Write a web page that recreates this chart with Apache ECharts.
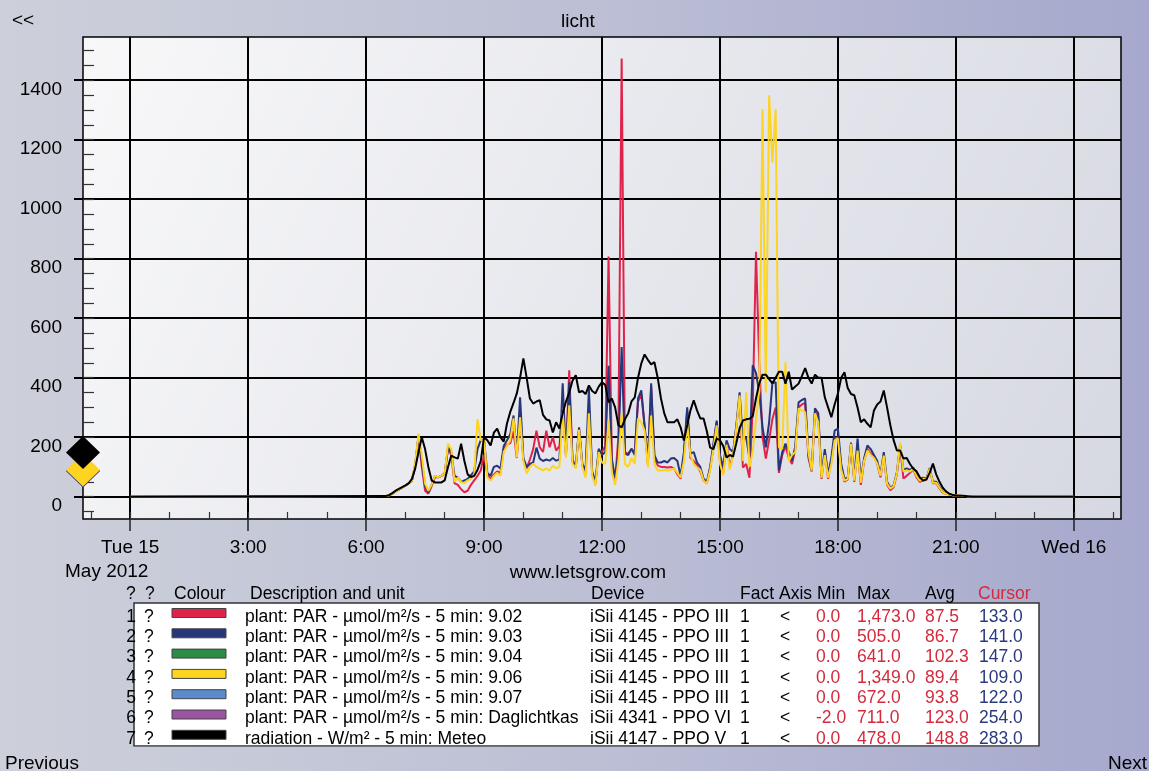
<!DOCTYPE html>
<html>
<head>
<meta charset="utf-8">
<title>licht</title>
<script src="https://cdn.jsdelivr.net/npm/echarts@6/dist/echarts.min.js"></script>
<style>
html, body { margin: 0; padding: 0; }
body {
	width: 1149px;
	height: 771px;
	overflow: hidden;
	background: linear-gradient(to right, #cdd0da 0%, #bdc0d5 50%, #a6a8cd 100%);
}
#chart { width: 1149px; height: 771px; }
</style>
</head>
<body>
<div id="chart"></div>
<script>
// x axis is in minutes since Tue 15 May 2012 00:00
const xMin = -72;
const xMax = 1512;
const yMin = -75;
const yMax = 1545;

const majorTimes = [0, 180, 360, 540, 720, 900, 1080, 1260, 1440];
const timeLabels = ['Tue 15', '3:00', '6:00', '9:00', '12:00', '15:00', '18:00', '21:00', 'Wed 16'];
const yTicks = [0, 200, 400, 600, 800, 1000, 1200, 1400];

// 5 min samples from 6:30 to 21:30, night values are 0
const nightStart = 0;
const nightEnd = 1440;
const sampleTimes = [];
for (let m = 390; m <= 1290; m += 5) sampleTimes.push(m);

// plant: PAR 9.02 (red)
const par902 = [
	2, 4, 10, 18, 24, 30,
	37, 45, 54, 105, 200, 100, 20, 10, 35, 65, 65, 70,
	78, 160, 140, 45, 40, 25, 15, 20, 40, 55, 70, 88,
	140, 75, 60, 75, 85, 80, 160, 175, 180, 220, 130, 280,
	125, 95, 125, 160, 222, 166, 150, 222, 166, 200, 155, 170,
	290, 140, 425, 125, 100, 225, 105, 80, 300, 75, 45, 155,
	150, 170, 807, 130, 55, 200, 1473, 150, 145, 160, 150, 320,
	345, 235, 110, 370, 130, 105, 100, 100, 98, 100, 95, 75,
	61, 140, 290, 130, 120, 105, 85, 54, 44, 95, 165, 250,
	120, 80, 180, 100, 140, 235, 340, 98, 110, 64, 300, 823,
	450, 200, 128, 190, 260, 300, 80, 140, 170, 130, 110, 160,
	300, 310, 315, 130, 85, 285, 270, 60, 150, 60, 120, 195,
	200, 100, 50, 58, 175, 50, 160, 40, 120, 160, 145, 135,
	110, 65, 140, 40, 22, 32, 75, 170, 61, 70, 80, 92,
	65, 50, 55, 56, 92, 45, 45, 28, 14, 10, 7, 5,
	4, 3, 2, 2, 1, 1, 0
];

// plant: PAR 9.03 (navy)
const par903 = [
	2, 4, 10, 18, 24, 30,
	37, 45, 54, 110, 205, 120, 35, 15, 40, 70, 65, 71,
	78, 165, 150, 70, 64, 50, 55, 60, 72, 85, 160, 190,
	190, 80, 70, 100, 104, 95, 170, 190, 210, 273, 140, 334,
	130, 100, 110, 115, 165, 128, 120, 125, 121, 130, 121, 125,
	381, 140, 385, 120, 100, 233, 110, 90, 364, 85, 50, 161,
	140, 150, 440, 120, 64, 150, 503, 145, 140, 161, 140, 330,
	357, 240, 115, 381, 140, 115, 115, 120, 115, 128, 130, 120,
	70, 150, 300, 145, 150, 115, 100, 60, 50, 100, 178, 256,
	140, 100, 189, 160, 150, 240, 351, 190, 200, 130, 442, 415,
	351, 233, 166, 250, 381, 385, 88, 150, 178, 150, 121, 170,
	317, 325, 330, 140, 88, 297, 280, 70, 160, 75, 130, 222,
	229, 110, 60, 64, 182, 60, 195, 55, 130, 172, 160, 140,
	120, 75, 150, 50, 30, 38, 82, 175, 90, 95, 90, 98,
	75, 58, 64, 60, 96, 50, 50, 32, 16, 11, 8, 5,
	4, 3, 2, 2, 1, 1, 0
];

// plant: PAR 9.06 (yellow)
const par906 = [
	2, 4, 10, 18, 24, 30,
	37, 45, 54, 115, 212, 140, 44, 20, 40, 71, 65, 71,
	78, 178, 160, 50, 64, 50, 45, 55, 60, 75, 260, 190,
	190, 65, 54, 70, 81, 70, 150, 170, 190, 263, 132, 267,
	120, 78, 100, 111, 100, 94, 88, 95, 88, 105, 95, 100,
	284, 132, 307, 111, 95, 225, 100, 64, 280, 71, 37, 150,
	115, 110, 256, 80, 40, 120, 280, 110, 100, 130, 110, 263,
	250, 222, 98, 273, 110, 88, 88, 90, 88, 90, 95, 80,
	64, 120, 246, 140, 110, 98, 90, 54, 44, 90, 160, 240,
	111, 71, 175, 90, 140, 230, 341, 120, 351, 100, 150, 260,
	357, 1302, 350, 1349, 1123, 1302, 166, 160, 452, 120, 140, 150,
	297, 290, 284, 150, 88, 280, 250, 64, 140, 64, 110, 189,
	195, 90, 54, 60, 178, 54, 155, 47, 121, 155, 140, 130,
	111, 70, 138, 44, 27, 35, 78, 182, 85, 88, 85, 94,
	70, 54, 60, 58, 94, 47, 47, 30, 15, 10, 7, 5,
	4, 3, 2, 2, 1, 1, 0
];

// radiation Meteo (black)
const radiation = [
	2, 5, 12, 20, 26, 32,
	38, 45, 60, 95, 150, 200, 160, 100, 55, 48, 48, 48,
	55, 100, 138, 132, 128, 178, 120, 75, 66, 70, 90, 120,
	200, 190, 172, 215, 229, 200, 185, 246, 285, 315, 347, 400,
	465, 400, 330, 313, 320, 324, 275, 260, 256, 216, 250, 229,
	280, 320, 350, 390, 408, 351, 355, 345, 374, 355, 347, 370,
	385, 375, 317, 330, 300, 240, 233, 260, 280, 320, 334, 400,
	448, 478, 460, 445, 452, 400, 330, 280, 250, 250, 250, 260,
	233, 189, 240, 290, 324, 290, 263, 263, 220, 165, 160, 195,
	190, 170, 132, 140, 135, 180, 230, 256, 260, 262, 270, 330,
	381, 410, 410, 395, 381, 400, 420, 420, 380, 420, 360, 370,
	380, 405, 432, 400, 380, 410, 400, 400, 334, 300, 267, 310,
	347, 400, 418, 365, 345, 341, 300, 250, 260, 245, 233, 290,
	310, 320, 357, 300, 240, 190, 155, 155, 128, 130, 110, 94,
	85, 65, 54, 58, 80, 111, 75, 50, 30, 18, 10, 6,
	4, 3, 3, 2, 1, 0, 0
];

// legend table
const descriptions = [
	'plant: PAR - µmol/m²/s - 5 min: 9.02',
	'plant: PAR - µmol/m²/s - 5 min: 9.03',
	'plant: PAR - µmol/m²/s - 5 min: 9.04',
	'plant: PAR - µmol/m²/s - 5 min: 9.06',
	'plant: PAR - µmol/m²/s - 5 min: 9.07',
	'plant: PAR - µmol/m²/s - 5 min: Daglichtkas',
	'radiation - W/m² - 5 min: Meteo'
];
const devices = [
	'iSii 4145 - PPO III', 'iSii 4145 - PPO III', 'iSii 4145 - PPO III',
	'iSii 4145 - PPO III', 'iSii 4145 - PPO III', 'iSii 4341 - PPO VI', 'iSii 4147 - PPO V'
];
const colours = ['#e0234b', '#26367a', '#2a8c46', '#fdd420', '#5b8bcc', '#9b55a0', '#000000'];
const minVals = [0, 0, 0, 0, 0, -2, 0];
const maxVals = [1473, 505, 641, 1349, 672, 711, 478];
const avgVals = [87.5, 86.7, 102.3, 89.4, 93.8, 123.0, 148.8];
const cursorVals = [133, 141, 147, 109, 122, 254, 283];

// which rows are drawn in the plot
const shown = [
	{ row: 0, values: par902 },
	{ row: 1, values: par903 },
	{ row: 3, values: par906 },
	{ row: 6, values: radiation }
];

const FONT = 'Liberation Sans';
const RED = '#d42a3c';
const BLUE = '#2b3a7d';
const pageStops = [
	{ offset: 0, color: '#cdd0da' },
	{ offset: 0.5, color: '#bdc0d5' },
	{ offset: 1, color: '#a6a8cd' }
];

function toPoints(vals) {
	const pts = [[nightStart, 0]];
	sampleTimes.forEach((t, i) => pts.push([t, vals[i]]));
	pts.push([nightEnd, 0]);
	return pts;
}

function fmt1(v) {
	return v.toLocaleString('en-US', { minimumFractionDigits: 1, maximumFractionDigits: 1 });
}

const hourTicks = [];
for (let m = -60; m <= 1500; m += 60) hourTicks.push(m);
const yMinorTicks = [];
for (let v = -50; v <= 1500; v += 50) yMinorTicks.push(v);

const series = [];
shown.forEach((s) => {
	series.push({
		type: 'line',
		name: descriptions[s.row],
		data: toPoints(s.values),
		showSymbol: false,
		lineStyle: { color: colours[s.row], width: 2 },
		itemStyle: { color: colours[s.row] },
		z: 3,
		animation: false
	});
});
// average markers at the left edge
shown.forEach((s) => {
	series.push({
		type: 'scatter',
		data: [[xMin, avgVals[s.row]]],
		symbol: 'diamond',
		symbolSize: [34, 33],
		clip: false,
		itemStyle: { color: colours[s.row], opacity: 1, borderWidth: 0 },
		z: 4,
		animation: false
	});
});

function txt(x, y, text, opt) {
	opt = opt || {};
	return {
		type: 'text',
		x: x,
		y: y,
		z: 10,
		style: {
			text: text,
			fill: opt.fill || '#000',
			fontSize: opt.size || 17.5,
			fontFamily: FONT,
			align: opt.align || 'left',
			textAlign: opt.align || 'left',
			verticalAlign: 'middle',
			textVerticalAlign: 'middle'
		}
	};
}

const graphics = [];
graphics.push(txt(12, 21, '<<', { size: 19 }));
graphics.push(txt(578, 22, 'licht', { size: 19, align: 'center' }));
graphics.push(txt(65, 572, 'May 2012', { size: 19 }));
graphics.push(txt(588, 573, 'www.letsgrow.com', { size: 19, align: 'center' }));
graphics.push(txt(5, 764, 'Previous', { size: 19 }));
graphics.push(txt(1147, 764, 'Next', { size: 19, align: 'right' }));

// table
const tableTop = 603;
const tableBottom = 746;
const rowY0 = 617;
const rowStep = 20.3;
const headerY = 594;
graphics.push({
	type: 'rect',
	shape: { x: 134, y: tableTop, width: 905, height: tableBottom - tableTop },
	style: { fill: '#ffffff', stroke: '#333333', lineWidth: 1.5 },
	z: 5
});
// the last row is cut off by the bottom of the box
graphics.push({
	type: 'rect',
	shape: { x: 110, y: tableBottom + 0.75, width: 940, height: 8 },
	style: {
		fill: { type: 'linear', x: 0, y: 0, x2: 1149, y2: 0, global: true, colorStops: pageStops }
	},
	z: 11
});
graphics.push(txt(126, headerY, '?'));
graphics.push(txt(145, headerY, '?'));
graphics.push(txt(174, headerY, 'Colour'));
graphics.push(txt(250, headerY, 'Description and unit'));
graphics.push(txt(591, headerY, 'Device'));
graphics.push(txt(740, headerY, 'Fact'));
graphics.push(txt(779, headerY, 'Axis'));
graphics.push(txt(817, headerY, 'Min'));
graphics.push(txt(857, headerY, 'Max'));
graphics.push(txt(925, headerY, 'Avg'));
graphics.push(txt(978, headerY, 'Cursor', { fill: RED }));

descriptions.forEach((d, i) => {
	const y = rowY0 + i * rowStep;
	graphics.push(txt(136, y, String(i + 1), { align: 'right' }));
	graphics.push(txt(144, y, '?'));
	graphics.push({
		type: 'rect',
		shape: { x: 172, y: y - 8.5, width: 54, height: 9 },
		style: { fill: colours[i], stroke: '#444', lineWidth: 1 },
		z: 10
	});
	graphics.push(txt(245, y, d));
	graphics.push(txt(590, y, devices[i]));
	graphics.push(txt(740, y, '1'));
	graphics.push(txt(780, y, '<'));
	graphics.push(txt(816, y, fmt1(minVals[i]), { fill: RED }));
	graphics.push(txt(857, y, fmt1(maxVals[i]), { fill: RED }));
	graphics.push(txt(925, y, fmt1(avgVals[i]), { fill: RED }));
	graphics.push(txt(979, y, fmt1(cursorVals[i]), { fill: BLUE }));
});

const chart = echarts.init(document.getElementById('chart'));

const option = {
	animation: false,
	backgroundColor: 'transparent',
	textStyle: { fontFamily: FONT },
	grid: {
		left: 83,
		right: 28,
		top: 37,
		bottom: 252,
		show: true,
		borderColor: '#000',
		borderWidth: 1.5,
		outerBoundsMode: 'none',
		backgroundColor: {
			type: 'linear', x: 0, y: 0, x2: 1, y2: 1,
			colorStops: [
				{ offset: 0, color: '#f8f8f9' },
				{ offset: 1, color: '#d6d8e2' }
			]
		}
	},
	xAxis: [
		{
			type: 'value',
			min: xMin,
			max: xMax,
			position: 'bottom',
			axisLine: { show: false, onZero: false },
			axisTick: {
				show: true,
				customValues: majorTimes,
				length: 12,
				lineStyle: { color: '#222', width: 1.5 }
			},
			axisLabel: {
				customValues: majorTimes,
				margin: 19,
				color: '#000',
				fontSize: 19,
				fontFamily: FONT,
				formatter: (v) => timeLabels[majorTimes.indexOf(v)]
			},
			splitLine: { show: true, lineStyle: { color: '#000', width: 2 } }
		},
		{
			type: 'value',
			min: xMin,
			max: xMax,
			position: 'bottom',
			axisLine: { show: false, onZero: false },
			axisTick: {
				show: true,
				inside: true,
				customValues: hourTicks,
				length: 7,
				lineStyle: { color: '#333', width: 1.2 }
			},
			axisLabel: { show: false },
			splitLine: { show: false }
		}
	],
	yAxis: [
		{
			type: 'value',
			min: yMin,
			max: yMax,
			position: 'left',
			axisLine: { show: false, onZero: false },
			axisTick: {
				show: true,
				customValues: yTicks,
				length: 9,
				lineStyle: { color: '#000', width: 2 }
			},
			axisLabel: {
				customValues: yTicks,
				margin: 21,
				color: '#000',
				fontSize: 19,
				fontFamily: FONT,
				verticalAlign: 'top',
				formatter: (v) => String(v)
			},
			splitLine: { show: true, lineStyle: { color: '#000', width: 2 } }
		},
		{
			type: 'value',
			min: yMin,
			max: yMax,
			position: 'left',
			axisLine: { show: false, onZero: false },
			axisTick: {
				show: true,
				inside: true,
				customValues: yMinorTicks,
				length: 11,
				lineStyle: { color: '#333', width: 1.2 }
			},
			axisLabel: { show: false },
			splitLine: { show: false }
		}
	],
	series: series,
	graphic: graphics
};

chart.setOption(option);
</script>
</body>
</html>
